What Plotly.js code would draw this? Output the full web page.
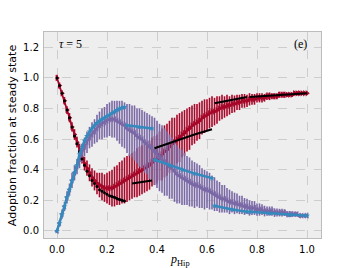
<!DOCTYPE html>
<html><head><meta charset="utf-8">
<script src="https://cdn.plot.ly/plotly-3.0.1.min.js"></script>
<style>html,body{margin:0;padding:0;background:#fff;}#chart{width:357px;height:268px;}</style>
</head><body><div id="chart"></div>
<script>
// p_Hip grid
const pHip = [0.00,0.01,0.02,0.03,0.04,0.05,0.06,0.07,0.08,0.09,
0.10,0.11,0.12,0.13,0.14,0.15,0.16,0.17,0.18,0.19,
0.20,0.21,0.22,0.23,0.24,0.25,0.26,0.27,0.28,0.29,
0.30,0.31,0.32,0.33,0.34,0.35,0.36,0.37,0.38,0.39,
0.40,0.41,0.42,0.43,0.44,0.45,0.46,0.47,0.48,0.49,
0.50,0.51,0.52,0.53,0.54,0.55,0.56,0.57,0.58,0.59,
0.60,0.61,0.62,0.63,0.64,0.65,0.66,0.67,0.68,0.69,
0.70,0.71,0.72,0.73,0.74,0.75,0.76,0.77,0.78,0.79,
0.80,0.81,0.82,0.83,0.84,0.85,0.86,0.87,0.88,0.89,
0.90,0.91,0.92,0.93,0.94,0.95,0.96,0.97,0.98,0.99,1.00];

const redMean = [1.00,0.95,0.90,0.85,0.79,0.74,0.68,0.63,0.58,0.53,
0.48,0.44,0.41,0.38,0.35,0.33,0.31,0.30,0.29,0.28,
0.28,0.28,0.28,0.29,0.30,0.31,0.32,0.33,0.34,0.35,
0.36,0.37,0.38,0.39,0.40,0.41,0.42,0.43,0.45,0.46,
0.47,0.49,0.50,0.52,0.53,0.55,0.57,0.58,0.60,0.61,
0.63,0.64,0.66,0.67,0.69,0.70,0.71,0.72,0.74,0.75,
0.76,0.77,0.78,0.78,0.79,0.80,0.81,0.81,0.82,0.82,
0.83,0.83,0.84,0.84,0.85,0.85,0.85,0.86,0.86,0.86,
0.87,0.87,0.87,0.87,0.88,0.88,0.88,0.88,0.88,0.89,
0.89,0.89,0.89,0.89,0.89,0.90,0.90,0.90,0.90,0.90,0.90];

const redErr = [0.02,0.02,0.02,0.025,0.025,0.03,0.03,0.035,0.035,0.04,
0.04,0.045,0.05,0.055,0.06,0.065,0.07,0.08,0.09,0.09,
0.10,0.11,0.12,0.13,0.13,0.14,0.14,0.15,0.15,0.15,
0.15,0.15,0.16,0.16,0.16,0.16,0.16,0.16,0.16,0.16,
0.16,0.16,0.17,0.17,0.17,0.17,0.17,0.16,0.16,0.16,
0.15,0.15,0.14,0.14,0.13,0.13,0.12,0.12,0.11,0.11,
0.10,0.10,0.10,0.09,0.09,0.08,0.08,0.07,0.07,0.06,
0.06,0.055,0.05,0.05,0.045,0.045,0.04,0.04,0.035,0.035,
0.03,0.03,0.03,0.025,0.025,0.025,0.02,0.02,0.02,0.02,
0.02,0.02,0.015,0.015,0.015,0.015,0.015,0.015,0.012,0.012,0.012];

const purpleMean = [0.00,0.05,0.11,0.16,0.22,0.27,0.33,0.38,0.42,0.47,
0.51,0.55,0.58,0.61,0.63,0.65,0.67,0.69,0.70,0.71,
0.72,0.73,0.73,0.73,0.72,0.71,0.70,0.69,0.67,0.66,
0.65,0.64,0.62,0.61,0.60,0.58,0.57,0.55,0.54,0.52,
0.50,0.48,0.47,0.45,0.44,0.42,0.41,0.39,0.37,0.36,
0.35,0.34,0.33,0.32,0.31,0.30,0.30,0.29,0.28,0.27,
0.27,0.26,0.25,0.24,0.23,0.22,0.21,0.21,0.20,0.19,
0.19,0.18,0.18,0.17,0.17,0.16,0.16,0.15,0.15,0.15,
0.14,0.14,0.14,0.13,0.13,0.13,0.13,0.12,0.12,0.12,
0.12,0.12,0.11,0.11,0.11,0.11,0.11,0.10,0.10,0.10,0.10];

const purpleErr = [0.01,0.02,0.03,0.03,0.04,0.04,0.05,0.05,0.05,0.06,
0.06,0.06,0.07,0.07,0.08,0.08,0.09,0.09,0.10,0.10,
0.11,0.11,0.12,0.12,0.13,0.14,0.15,0.15,0.16,0.17,
0.17,0.18,0.18,0.19,0.19,0.20,0.20,0.21,0.21,0.22,
0.22,0.22,0.22,0.22,0.21,0.21,0.20,0.20,0.19,0.18,
0.18,0.17,0.16,0.16,0.15,0.15,0.14,0.14,0.13,0.13,
0.12,0.12,0.11,0.11,0.10,0.10,0.09,0.09,0.08,0.08,
0.07,0.07,0.065,0.06,0.06,0.055,0.05,0.05,0.045,0.045,
0.04,0.04,0.035,0.035,0.03,0.03,0.03,0.028,0.026,0.025,
0.025,0.022,0.02,0.02,0.018,0.016,0.015,0.014,0.012,0.012,0.01];

// theory (black, for red series): first branch as dots, later branches as segments (null = gap)
const blackDotX = [0.00,0.01,0.02,0.03,0.04,0.05,0.06,0.07,0.08,0.09,0.10,0.11,0.12,0.13,0.14,0.15,0.16,0.17,0.18,0.19,0.20,0.21,0.22,0.23,0.24,0.25,0.26,0.27];
const blackDotY = [1.00,0.95,0.90,0.85,0.79,0.74,0.68,0.62,0.57,0.52,0.47,0.43,0.39,0.36,0.33,0.31,0.29,0.27,0.26,0.25,0.24,0.23,0.225,0.22,0.21,0.205,0.20,0.195];
const blackSegX = [0.21,0.24,0.27, null,0.30,0.34,0.38, null,0.39,0.45,0.50,0.55,0.62, null,0.63,0.70,0.76, null,0.77,0.85,0.93,1.00];
const blackSegY = [0.23,0.21,0.195, null,0.31,0.32,0.33, null,0.54,0.575,0.605,0.63,0.665, null,0.835,0.855,0.875, null,0.875,0.885,0.895,0.90];

// theory (blue, for purple series)
const blueX = [0.00,0.01,0.02,0.03,0.04,0.05,0.06,0.07,0.08,0.09,0.10,0.11,0.12,0.13,0.14,0.15,0.16,0.17,0.18,0.19,0.20,0.21,0.22,0.23,0.24,0.25,0.26,0.27,
  null,0.28,0.33,0.38, null,0.39,0.45,0.50,0.55,0.62, null,0.63,0.70,0.76, null,0.77,0.85,0.93,1.00];
const blueY = [0.00,0.05,0.11,0.16,0.22,0.27,0.33,0.38,0.43,0.50,0.55,0.59,0.62,0.65,0.67,0.69,0.705,0.72,0.73,0.74,0.75,0.76,0.77,0.78,0.79,0.80,0.805,0.81,
  null,0.69,0.68,0.67, null,0.465,0.43,0.40,0.375,0.345, null,0.165,0.14,0.125, null,0.125,0.115,0.105,0.10];

const xTicks = [0.0,0.2,0.4,0.6,0.8,1.0];
const xTickText = ['0.0','0.2','0.4','0.6','0.8','1.0'];
const yTicks = [0.0,0.2,0.4,0.6,0.8,1.0,1.2];
const yTickText = ['0.0','0.2','0.4','0.6','0.8','1.0','1.2'];

const RED = '#A60628', PURPLE = '#7A68A6', BLUE = '#348ABD';

const traces = [
  {x: pHip, y: redMean, type:'scatter', mode:'lines+markers',
   line:{color:RED, width:1.8}, marker:{symbol:'triangle-right', size:5.5, color:RED},
   error_y:{type:'data', array:redErr, visible:true, color:RED, thickness:1.6, width:0}},
  {x: pHip, y: purpleMean, type:'scatter', mode:'lines+markers',
   line:{color:PURPLE, width:1.8}, marker:{symbol:'triangle-left', size:5.5, color:PURPLE},
   error_y:{type:'data', array:purpleErr, visible:true, color:PURPLE, thickness:1.6, width:0}},
  {x: blackDotX, y: blackDotY, type:'scatter', mode:'markers',
   marker:{symbol:'circle', size:3, color:'#000'}},
  {x: blackSegX, y: blackSegY, type:'scatter', mode:'lines', connectgaps:false,
   line:{color:'#000', width:2}},
  {x: blueX, y: blueY, type:'scatter', mode:'lines+markers', connectgaps:false,
   line:{color:BLUE, width:2.5}, marker:{symbol:'star', size:4.5, color:BLUE}}
];

const layout = {
  width:357, height:268,
  margin:{l:44, r:36, t:32, b:30},
  paper_bgcolor:'#ffffff', plot_bgcolor:'#eeeeee',
  showlegend:false,
  font:{family:'DejaVu Sans', size:10, color:'#000'},
  xaxis:{range:[-0.052,1.056], tickvals:xTicks, ticktext:xTickText, showgrid:true,
    gridcolor:'#c4c4c4', griddash:'dash', gridwidth:0.8, zeroline:false,
    showline:true, mirror:true, linecolor:'#bcbcbc', linewidth:1, ticks:'', ticklabelstandoff:2},
  yaxis:{range:[-0.046,1.30], tickvals:yTicks, ticktext:yTickText, showgrid:true,
    gridcolor:'#c4c4c4', griddash:'dash', gridwidth:0.8, zeroline:false,
    showline:true, mirror:true, linecolor:'#bcbcbc', linewidth:1, ticks:'', ticklabelstandoff:2},
  annotations:[
    {text:'Adoption fraction at steady state', xref:'paper', yref:'paper', x:-0.115, y:0.5,
     xanchor:'center', yanchor:'middle', textangle:-90, showarrow:false,
     font:{family:'DejaVu Sans', size:11, color:'#000'}},
    {text:'<i>p</i><sub>Hip</sub>', xref:'paper', yref:'paper', x:0.49, y:-0.105,
     xanchor:'center', yanchor:'middle', showarrow:false,
     font:{family:'Liberation Serif', size:12, color:'#000'}},
    {text:'<i>τ</i> = 5', xref:'paper', yref:'paper', x:0.047, y:0.94,
     xanchor:'left', yanchor:'middle', showarrow:false,
     font:{family:'Liberation Serif', size:12, color:'#000'}},
    {text:'(e)', xref:'paper', yref:'paper', x:0.955, y:0.94,
     xanchor:'right', yanchor:'middle', showarrow:false,
     font:{family:'Liberation Serif', size:12, color:'#000'}}
  ]
};

Plotly.newPlot('chart', traces, layout, {displayModeBar:false, staticPlot:true});
</script>
</body></html>
